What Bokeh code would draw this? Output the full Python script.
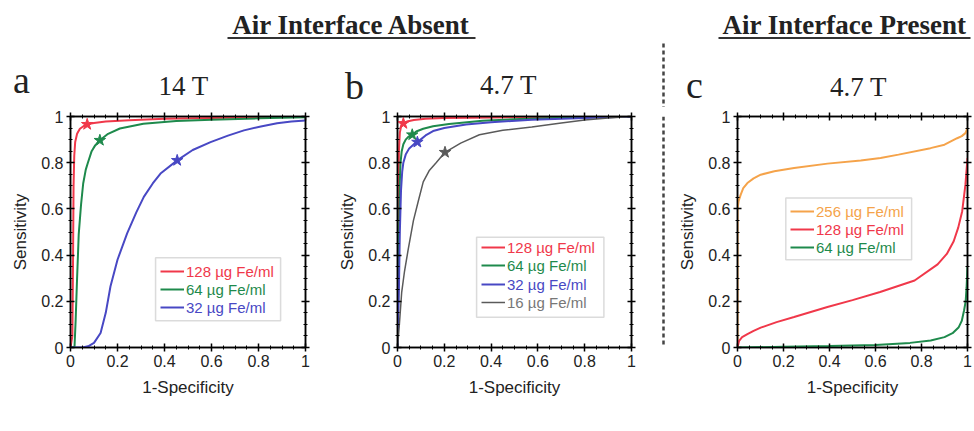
from bokeh.plotting import figure
from bokeh.layouts import column, row
from bokeh.models import (Range1d, LinearAxis, FixedTicker, Legend, LegendItem,
                          BoxAnnotation, CustomLabelingPolicy)
from bokeh.core.properties import value
from bokeh.embed import file_html
from bokeh.resources import INLINE

# ---------------- data ----------------
TICKS = [0, 0.2, 0.4, 0.6, 0.8, 1]
TICK_LABELS = ["0", "0.2", "0.4", "0.6", "0.8", "1"]
MINOR_TICKS = [0.05, 0.1, 0.15, 0.25, 0.3, 0.35, 0.45, 0.5, 0.55, 0.65, 0.7, 0.75, 0.85, 0.9, 0.95]

X_LABEL = "1-Specificity"
Y_LABEL = "Sensitivity"
HEADERS = ["Air Interface Absent", "Air Interface Present"]
PANEL_LETTERS = ["a", "b", "c"]
PANEL_TITLES = ["14 T", "4.7 T", "4.7 T"]

# panel a : 14 T, air interface absent
A_SERIES = ["128 µg Fe/ml", "64 µg Fe/ml", "32 µg Fe/ml"]
A_128_X = [0, 0.008, 0.011, 0.013, 0.016, 0.02, 0.028, 0.04, 0.055, 0.071, 0.1, 0.15, 0.25, 0.4, 0.6, 0.8, 1.0]
A_128_Y = [0, 0.05, 0.4, 0.7, 0.83, 0.89, 0.925, 0.947, 0.958, 0.966, 0.972, 0.978, 0.984, 0.99, 0.994, 0.997, 1.0]
A_64_X = [0, 0.017, 0.022, 0.028, 0.035, 0.045, 0.054, 0.065, 0.074, 0.09, 0.105, 0.125, 0.16, 0.21, 0.31, 0.45, 0.6, 0.8, 1.0]
A_64_Y = [0, 0.0, 0.12, 0.3, 0.49, 0.62, 0.71, 0.77, 0.8, 0.85, 0.875, 0.897, 0.925, 0.948, 0.969, 0.98, 0.986, 0.992, 0.997]
A_32_X = [0, 0.05, 0.075, 0.1, 0.128, 0.15, 0.17, 0.2, 0.241, 0.28, 0.312, 0.35, 0.383, 0.454, 0.52, 0.596, 0.67, 0.738, 0.81, 0.879, 0.94, 1.0]
A_32_Y = [0, 0.0, 0.005, 0.02, 0.063, 0.15, 0.264, 0.38, 0.494, 0.585, 0.652, 0.71, 0.753, 0.81, 0.855, 0.889, 0.917, 0.94, 0.957, 0.971, 0.978, 0.983]
A_STAR_X = [0.071, 0.125, 0.454]
A_STAR_Y = [0.966, 0.897, 0.81]

# panel b : 4.7 T, air interface absent
B_SERIES = ["128 µg Fe/ml", "64 µg Fe/ml", "32 µg Fe/ml", "16 µg Fe/ml"]
B_128_X = [0, 0.003, 0.006, 0.01, 0.015, 0.025, 0.04, 0.07, 0.12, 0.2, 0.4, 0.7, 1.0]
B_128_Y = [0, 0.5, 0.85, 0.93, 0.955, 0.969, 0.978, 0.985, 0.99, 0.993, 0.996, 0.998, 1.0]
B_64_X = [0, 0.006, 0.01, 0.013, 0.018, 0.025, 0.035, 0.047, 0.063, 0.08, 0.11, 0.152, 0.22, 0.363, 0.55, 0.8, 1.0]
B_64_Y = [0, 0.45, 0.72, 0.8, 0.85, 0.88, 0.9, 0.913, 0.921, 0.935, 0.947, 0.958, 0.968, 0.982, 0.99, 0.997, 1.0]
B_32_X = [0, 0.006, 0.01, 0.015, 0.02, 0.025, 0.035, 0.05, 0.07, 0.085, 0.12, 0.152, 0.2, 0.293, 0.4, 0.574, 0.8, 1.0]
B_32_Y = [0, 0.25, 0.5, 0.68, 0.76, 0.8, 0.835, 0.862, 0.88, 0.889, 0.918, 0.937, 0.95, 0.965, 0.975, 0.986, 0.994, 1.0]
B_16_X = [0, 0.008, 0.018, 0.03, 0.045, 0.068, 0.089, 0.11, 0.135, 0.165, 0.203, 0.27, 0.35, 0.45, 0.574, 0.7, 0.8, 0.9, 1.0]
B_16_Y = [0, 0.1, 0.24, 0.33, 0.42, 0.549, 0.634, 0.717, 0.765, 0.8, 0.845, 0.885, 0.921, 0.94, 0.955, 0.972, 0.985, 0.994, 1.0]
B_STAR_X = [0.025, 0.063, 0.085, 0.203]
B_STAR_Y = [0.97, 0.921, 0.889, 0.845]

# panel c : 4.7 T, air interface present
C_SERIES = ["256 µg Fe/ml", "128 µg Fe/ml", "64 µg Fe/ml"]
C_256_X = [0, 0.0, 0.005, 0.014, 0.025, 0.043, 0.07, 0.101, 0.16, 0.246, 0.391, 0.536, 0.622, 0.7, 0.839, 0.9, 0.955, 0.975, 0.991, 1.0]
C_256_Y = [0, 0.6, 0.635, 0.662, 0.69, 0.712, 0.732, 0.748, 0.763, 0.777, 0.796, 0.81, 0.82, 0.835, 0.863, 0.878, 0.906, 0.915, 0.928, 0.95]
C_128_X = [0, 0.007, 0.02, 0.043, 0.07, 0.101, 0.17, 0.246, 0.391, 0.5, 0.62, 0.77, 0.87, 0.91, 0.94, 0.96, 0.977, 0.991, 1.0]
C_128_Y = [0, 0.029, 0.045, 0.058, 0.072, 0.086, 0.11, 0.132, 0.175, 0.205, 0.24, 0.29, 0.36, 0.405, 0.46, 0.52, 0.59, 0.705, 0.82]
C_64_X = [0, 0.2, 0.4, 0.6, 0.75, 0.84, 0.9, 0.935, 0.962, 0.975, 0.985, 0.992, 0.996, 1.0]
C_64_Y = [0, 0.003, 0.006, 0.011, 0.02, 0.03, 0.045, 0.062, 0.088, 0.115, 0.16, 0.2, 0.26, 0.35]

# ---------------- styles ----------------
RED = "#f0384a"
GREEN = "#1e8a4c"
BLUE = "#4848c4"
GRAY = "#5a5a5a"
ORANGE = "#f5a34a"

SANS = "Liberation Sans"
SERIF = "Liberation Serif"

HIDE_ALL = CustomLabelingPolicy(code="""
for (const i of indices) { indices.unset(i) }
return indices
""")


def style_axis(ax, labels=True):
    ax.ticker = FixedTicker(ticks=TICKS, minor_ticks=MINOR_TICKS)
    ax.axis_line_color = "black"
    ax.axis_line_width = 1.5
    ax.major_tick_line_color = "black"
    ax.major_tick_line_width = 1.5
    ax.minor_tick_line_color = "black"
    ax.major_tick_in = 4
    ax.major_tick_out = 4
    ax.minor_tick_in = 2
    ax.minor_tick_out = 2
    if labels:
        ax.major_label_overrides = dict(zip(TICKS, TICK_LABELS))
        ax.major_label_text_font = SANS
        ax.major_label_text_font_size = "16px"
        ax.major_label_text_color = "#222222"
        ax.major_label_standoff = 3
        ax.axis_label_text_font = SANS
        ax.axis_label_text_font_size = "17px"
        ax.axis_label_text_font_style = "normal"
        ax.axis_label_text_color = "#222222"
        ax.axis_label_standoff = 8
    else:
        ax.major_label_overrides = {t: "" for t in TICKS}
        ax.major_label_policy = HIDE_ALL
        ax.major_label_standoff = 0


def make_panel(width, height, left, right, top, bottom):
    p = figure(width=width, height=height, x_range=Range1d(0, 1), y_range=Range1d(0, 1),
               output_backend="svg", toolbar_location=None,
               min_border_left=left, min_border_right=right,
               min_border_top=top, min_border_bottom=bottom,
               x_axis_label=X_LABEL, y_axis_label=Y_LABEL)
    p.grid.visible = False
    p.outline_line_color = "black"
    p.outline_line_width = 1.5
    p.background_fill_color = "white"
    p.border_fill_color = "white"
    p.add_layout(LinearAxis(), "above")
    p.add_layout(LinearAxis(), "right")
    for ax in p.below + p.left:
        style_axis(ax, True)
    for ax in p.above + p.right:
        style_axis(ax, False)
    return p


def add_legend(p, renderers, names, colors, x0, ys):
    for r, name, col, y in zip(renderers, names, colors, ys):
        leg = Legend(items=[LegendItem(label=name, renderers=[r])], location=(x0, y),
                     border_line_alpha=0, background_fill_alpha=0,
                     padding=0, margin=0, spacing=0,
                     glyph_width=24, glyph_height=14, label_height=14,
                     label_standoff=2,
                     label_text_font=SANS, label_text_font_size="15px",
                     label_text_color=col)
        p.add_layout(leg)


HEADER_H = 107
ROW_H = 323
TOTAL_W = 972

# ---------------- panel a ----------------
pa = make_panel(335, ROW_H, 70, 30, 9, 82)
pa.add_layout(BoxAnnotation(left=0.362, right=0.894, bottom=0.116, top=0.388,
                            fill_color="white", fill_alpha=1, line_color="#888888", line_width=1.5))
ra = [pa.line(A_128_X, A_128_Y, color=RED, line_width=2),
      pa.line(A_64_X, A_64_Y, color=GREEN, line_width=2),
      pa.line(A_32_X, A_32_Y, color=BLUE, line_width=2)]
pa.scatter(A_STAR_X, A_STAR_Y, marker="star", size=12, color=[RED, GREEN, BLUE])
add_legend(pa, ra, A_SERIES, [RED, GREEN, BLUE], 90, [67.5, 49.5, 31.5])

# ---------------- panel b ----------------
pb = make_panel(320, ROW_H, 59, 24, 6, 80)
pb.add_layout(BoxAnnotation(left=0.338, right=0.882, bottom=0.131, top=0.477,
                            fill_color="white", fill_alpha=1, line_color="#888888", line_width=1.5))
rb = [pb.line(B_128_X, B_128_Y, color=RED, line_width=2),
      pb.line(B_64_X, B_64_Y, color=GREEN, line_width=2),
      pb.line(B_32_X, B_32_Y, color=BLUE, line_width=2),
      pb.line(B_16_X, B_16_Y, color=GRAY, line_width=1.5)]
pb.scatter(B_STAR_X, B_STAR_Y, marker="star", size=12, color=[RED, GREEN, BLUE, GRAY])
add_legend(pb, rb, B_SERIES, [RED, GREEN, BLUE, "#777777"], 84, [91.5, 73.5, 54.5, 36.5])

# ---------------- separator ----------------
sep = figure(width=17, height=ROW_H, x_range=Range1d(655, 672), y_range=Range1d(430, HEADER_H),
             output_backend="svg", toolbar_location=None, min_border=0,
             x_axis_location=None, y_axis_location=None)
sep.grid.visible = False
sep.outline_line_color = None
sep.segment(x0=[663], y0=[HEADER_H], x1=[663], y1=[430], line_color="#444444",
            line_width=2.5, line_dash="4 3")

# ---------------- panel c ----------------
pc = make_panel(300, ROW_H, 65, 5, 8, 83)
pc.add_layout(BoxAnnotation(left=0.21, right=0.757, bottom=0.38, top=0.647,
                            fill_color="white", fill_alpha=1, line_color="#888888", line_width=1.5))
rc = [pc.line(C_256_X, C_256_Y, color=ORANGE, line_width=2),
      pc.line(C_128_X, C_128_Y, color=RED, line_width=2),
      pc.line(C_64_X, C_64_Y, color=GREEN, line_width=2)]
add_legend(pc, rc, C_SERIES, [ORANGE, RED, GREEN], 53, [127.5, 109.5, 91.5])

# ---------------- header (page pixel coordinates) ----------------
hd = figure(width=TOTAL_W, height=HEADER_H, x_range=Range1d(0, TOTAL_W), y_range=Range1d(HEADER_H, 0),
            output_backend="svg", toolbar_location=None, min_border=0,
            x_axis_location=None, y_axis_location=None)
hd.grid.visible = False
hd.outline_line_color = None
hd.text(x=[351, 844], y=[24, 24], text=HEADERS, text_font=value(SERIF),
        text_font_size="27px", text_font_style="bold", text_align="center",
        text_baseline="alphabetic", text_color="#222222")
hd.segment(x0=[227, 718], y0=[37.5, 37.5], x1=[475, 970], y1=[37.5, 37.5],
           line_color="#333333", line_width=2)
hd.text(x=[21, 354, 694], y=[79, 85, 84.5], text=PANEL_LETTERS, text_font=value(SERIF),
        text_font_size="38px", text_align="center", text_baseline="alphabetic",
        text_color="#222222")
hd.text(x=[183, 508, 858], y=[85, 84, 86], text=PANEL_TITLES, text_font=value(SERIF),
        text_font_size="27px", text_align="center", text_baseline="alphabetic",
        text_color="#222222")
hd.segment(x0=[663], y0=[43], x1=[663], y1=[HEADER_H], line_color="#444444",
           line_width=2.5, line_dash="4 3")

layout = column(hd, row(pa, pb, sep, pc))

open("out.html", "w").write(file_html(layout, INLINE))
